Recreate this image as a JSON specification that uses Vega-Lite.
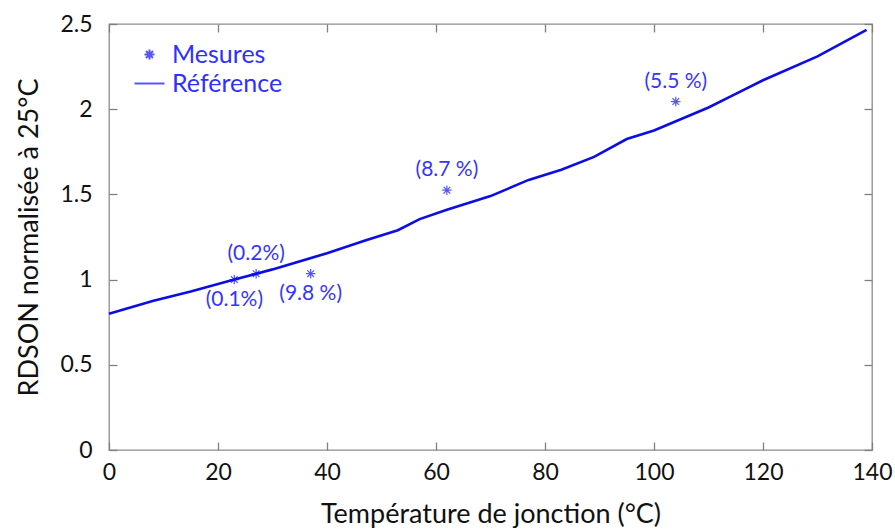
{
  "$schema": "https://vega.github.io/schema/vega-lite/v6.json",
  "width": 763,
  "height": 426,
  "autosize": {"type": "none"},
  "padding": {"left": 109, "top": 24, "right": 23, "bottom": 81},
  "config": {
    "font": "Lato",
    "view": {"stroke": "#8c8c8c", "strokeWidth": 1.3},
    "axis": {
      "grid": false,
      "domain": false,
      "labelFlush": false,
      "ticks": true,
      "tickColor": "#808080",
      "tickWidth": 1.3,
      "tickSize": 8,
      "labelFont": "Lato",
      "labelFontSize": 23,
      "labelColor": "#111111",
      "titleFont": "Lato",
      "titleFontSize": 27,
      "titleFontWeight": "normal",
      "titleColor": "#111111"
    },
    "legend": {
      "orient": "none",
      "legendX": 28,
      "legendY": 18,
      "padding": 0,
      "labelFont": "Lato",
      "labelFontSize": 25,
      "labelColor": "#2f2fff",
      "symbolStrokeColor": "#1010ee",
      "symbolStrokeWidth": 2,
      "symbolFillColor": "transparent",
      "rowPadding": 3,
      "labelOffset": 10
    }
  },
  "datasets": {
    "ref": [
      {"t": 0, "r": 0.80},
      {"t": 8, "r": 0.875},
      {"t": 15, "r": 0.93},
      {"t": 23, "r": 1.0},
      {"t": 30, "r": 1.06},
      {"t": 40, "r": 1.155},
      {"t": 47, "r": 1.23},
      {"t": 53, "r": 1.29},
      {"t": 57, "r": 1.355},
      {"t": 62, "r": 1.41},
      {"t": 70, "r": 1.49},
      {"t": 77, "r": 1.585},
      {"t": 83, "r": 1.645},
      {"t": 89, "r": 1.72},
      {"t": 95, "r": 1.825},
      {"t": 100, "r": 1.875},
      {"t": 110, "r": 2.01},
      {"t": 115, "r": 2.09},
      {"t": 120, "r": 2.17},
      {"t": 130, "r": 2.31},
      {"t": 139, "r": 2.465}
    ],
    "mes": [
      {"t": 23, "r": 1.0, "serie": "Mesures", "label": "(0.1%)", "pos": "below"},
      {"t": 27, "r": 1.035, "serie": "Mesures", "label": "(0.2%)", "pos": "above"},
      {"t": 37, "r": 1.035, "serie": "Mesures", "label": "(9.8 %)", "pos": "below"},
      {"t": 62, "r": 1.525, "serie": "Mesures", "label": "(8.7 %)", "pos": "above"},
      {"t": 104, "r": 2.045, "serie": "Mesures", "label": "(5.5 %)", "pos": "above"}
    ]
  },
  "layer": [
    {
      "data": {"name": "ref"},
      "mark": {"type": "line", "color": "#0c0ce8", "strokeWidth": 2.6},
      "encoding": {
        "x": {
          "field": "t", "type": "quantitative",
          "scale": {"domain": [0, 140], "nice": false},
          "axis": {"orient": "bottom", "offset": -8, "values": [0, 20, 40, 60, 80, 100, 120, 140], "labelPadding": 11, "title": "Température de jonction (°C)", "titlePadding": 17}
        },
        "y": {
          "field": "r", "type": "quantitative",
          "scale": {"domain": [0, 2.5], "nice": false},
          "axis": {"orient": "left", "offset": -8, "values": [0, 0.5, 1, 1.5, 2, 2.5], "format": "~g", "labelPadding": 17, "title": "RDSON normalisée à 25°C", "titlePadding": 16}
        }
      }
    },
    {
      "data": {"name": "ref"},
      "mark": {"type": "line", "opacity": 0},
      "encoding": {
        "x": {
          "field": "t", "type": "quantitative",
          "axis": {"orient": "top", "offset": -8, "values": [0, 20, 40, 60, 80, 100, 120, 140], "labels": false, "title": null}
        },
        "y": {
          "field": "r", "type": "quantitative",
          "axis": {"orient": "right", "offset": -8, "values": [0, 0.5, 1, 1.5, 2, 2.5], "labels": false, "title": null}
        }
      }
    },
    {
      "data": {"name": "mes"},
      "mark": {"type": "point", "filled": false, "strokeWidth": 1.2, "size": 90, "color": "#1010ee"},
      "encoding": {
        "x": {"field": "t", "type": "quantitative", "axis": null},
        "y": {"field": "r", "type": "quantitative", "axis": null},
        "shape": {
          "field": "serie", "type": "nominal",
          "scale": {"domain": ["Mesures", "Référence"], "range": ["M-1,0L1,0M0,-1L0,1M-0.7,-0.7L0.7,0.7M-0.7,0.7L0.7,-0.7", "M-3,0L3,0"]},
          "legend": {"title": null}
        }
      }
    },
    {
      "data": {"name": "mes"},
      "transform": [{"filter": "datum.pos == 'above'"}],
      "mark": {"type": "text", "fontSize": 21, "color": "#3535ff", "dy": -20, "baseline": "middle", "font": "Lato"},
      "encoding": {
        "x": {"field": "t", "type": "quantitative", "axis": null},
        "y": {"field": "r", "type": "quantitative", "axis": null},
        "text": {"field": "label"}
      }
    },
    {
      "data": {"name": "mes"},
      "transform": [{"filter": "datum.pos == 'below'"}],
      "mark": {"type": "text", "fontSize": 21, "color": "#3535ff", "dy": 20, "baseline": "middle", "font": "Lato"},
      "encoding": {
        "x": {"field": "t", "type": "quantitative", "axis": null},
        "y": {"field": "r", "type": "quantitative", "axis": null},
        "text": {"field": "label"}
      }
    }
  ],
  "resolve": {"axis": {"x": "independent", "y": "independent"}}
}
